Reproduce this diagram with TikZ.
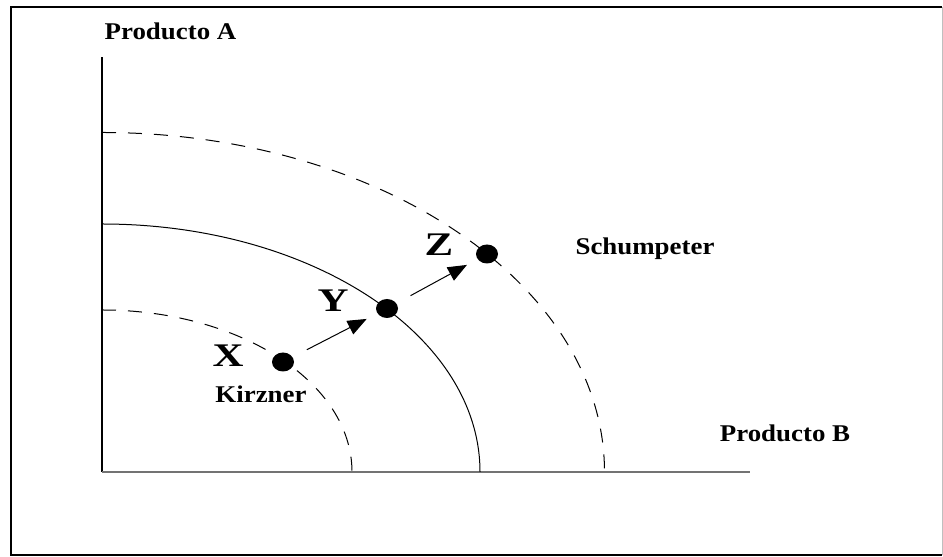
\documentclass[tikz,border=0pt]{standalone}
\usepackage{fontspec}
\setmainfont{Liberation Serif}
\usetikzlibrary{arrows.meta,shapes.geometric}
\begin{document}
\begin{tikzpicture}[x=1bp,y=1bp,
  lbl/.style={font=\fontsize{24bp}{28bp}\selectfont\bfseries, anchor=base, inner sep=0pt, xscale=1.12},
  big/.style={font=\fontsize{33bp}{36bp}\selectfont\bfseries, anchor=base, inner sep=0pt, xscale=1.3},
  dot/.style={ellipse, fill=black, minimum width=22bp, minimum height=19bp, inner sep=0pt},
  curve/.style={line width=1bp},
  dcurve/.style={line width=1bp, dash pattern=on 14bp off 12bp},
  arr/.style={line width=1bp, -{Triangle[length=19bp,width=15bp]}, shorten <=16bp, shorten >=12bp}]
\useasboundingbox (0,0) rectangle (943,557);
% frame
\draw[line width=2bp] (942,2) -- (11,2) -- (11,550) -- (942,550);
\draw[line width=0.8bp, black!25] (942,2) -- (942,550);
% axes
\coordinate (O) at (102,85);
\coordinate (ytop) at (102,500);
\coordinate (xend) at (750,85);
\draw[line width=1.6bp] (O) -- (ytop);
\draw[line width=2bp, black!55] (O) -- (xend);
% curves
\draw[dcurve] (102,247) arc[start angle=90, end angle=0, x radius=250, y radius=162];
\draw[curve] (102,333) arc[start angle=90, end angle=0, x radius=378, y radius=248];
\draw[dcurve] (102,424.5) arc[start angle=90, end angle=0, x radius=502.5, y radius=339.5];
% dots
\node[dot] (dX) at (283,195) {};
\node[dot] (dY) at (387,248.5) {};
\node[dot] (dZ) at (487,303) {};
% arrows
\draw[arr] (dX) -- (dY);
\draw[arr] (dY) -- (dZ);
% labels
\node[lbl] (pa) at (170.5,517) {Producto A};
\node[lbl] (pb) at (785,115) {Producto B};
\node[lbl] (sch) at (645,302) {Schumpeter};
\node[lbl] (kir) at (261,154) {Kirzner};
\node[big] (lX) at (228,190) {X};
\node[big] (lY) at (333,245) {Y};
\node[big] (lZ) at (439,301) {Z};
\end{tikzpicture}
\end{document}
